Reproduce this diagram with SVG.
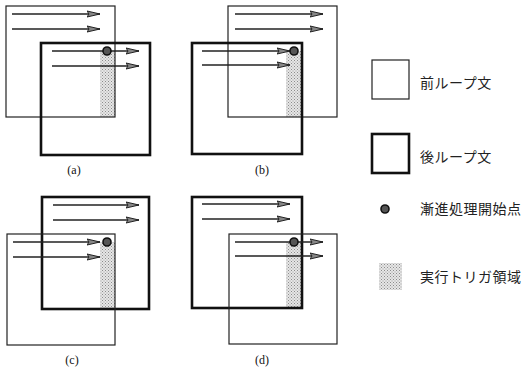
<svg xmlns="http://www.w3.org/2000/svg" width="525" height="368" viewBox="0 0 525 368">
  <style>
    .pre { fill: none; stroke: #222; stroke-width: 1.2; }
    .post { fill: none; stroke: #111; stroke-width: 2.6; }
    .flow { stroke: #222; stroke-width: 1.3; fill: none; marker-end: url(#head); }
    .zone { fill: url(#stipple); stroke: none; }
    .start { fill: #555; stroke: #111; stroke-width: 1.6; }
    .cap { font-family: "Liberation Serif", serif; font-size: 12px; fill: #111; text-anchor: middle; }
    .lbl { font-family: "Noto Sans CJK JP", sans-serif; font-size: 14px; letter-spacing: 0.5px; fill: #222; }
  </style>
  <defs>
    <pattern id="stipple" width="3" height="3" patternUnits="userSpaceOnUse">
      <rect width="3" height="3" fill="#e6e6e6"/>
      <rect x="0" y="0" width="1" height="1" fill="#8c8c8c"/>
      <rect x="1.5" y="1.5" width="1" height="1" fill="#9c9c9c"/>
    </pattern>
    <marker id="head" markerWidth="14" markerHeight="8" refX="13" refY="4" orient="auto" markerUnits="userSpaceOnUse">
      <path d="M0,1 L13,4 L0,7 L2,4 Z" fill="#888" stroke="#222" stroke-width="1"/>
    </marker>
  </defs>

  <!-- (a) -->
  <g id="panel-a">
    <rect class="zone" x="100" y="51" width="15" height="66"/>
    <rect class="pre" x="6" y="6" width="109" height="111"/>
    <rect class="post" x="41" y="43" width="109" height="112"/>
    <text class="cap" x="74" y="174">(a)</text>
  </g>
  <!-- (b) -->
  <g id="panel-b">
    <rect class="zone" x="286" y="51" width="15" height="66"/>
    <rect class="pre" x="228" y="6" width="109" height="111"/>
    <rect class="post" x="192" y="43" width="110" height="111"/>
    <text class="cap" x="262" y="174">(b)</text>
  </g>
  <!-- (c) -->
  <g id="panel-c">
    <rect class="zone" x="100" y="242" width="15" height="67"/>
    <rect class="post" x="42" y="197" width="107" height="112"/>
    <rect class="pre" x="7" y="234" width="108" height="111"/>
    <text class="cap" x="72" y="364">(c)</text>
  </g>
  <!-- (d) -->
  <g id="panel-d">
    <rect class="zone" x="286" y="242" width="15" height="66"/>
    <rect class="post" x="192" y="197" width="110" height="111"/>
    <rect class="pre" x="229" y="234" width="108" height="110"/>
    <text class="cap" x="262" y="364">(d)</text>
  </g>

  <!-- loop iteration arrows -->
  <g id="connectors">
    <line class="flow" x1="12" y1="14" x2="100" y2="14"/>
    <line class="flow" x1="12" y1="29" x2="100" y2="29"/>
    <line class="flow" x1="52" y1="51" x2="139" y2="51"/>
    <line class="flow" x1="52" y1="66" x2="139" y2="66"/>

    <line class="flow" x1="235" y1="14" x2="323" y2="14"/>
    <line class="flow" x1="235" y1="29" x2="323" y2="29"/>
    <line class="flow" x1="202" y1="51" x2="290" y2="51"/>
    <line class="flow" x1="202" y1="65" x2="290" y2="65"/>

    <line class="flow" x1="53" y1="205" x2="139" y2="205"/>
    <line class="flow" x1="53" y1="220" x2="139" y2="220"/>
    <line class="flow" x1="13" y1="242" x2="100" y2="242"/>
    <line class="flow" x1="13" y1="257" x2="100" y2="257"/>

    <line class="flow" x1="202" y1="204" x2="290" y2="204"/>
    <line class="flow" x1="202" y1="219" x2="290" y2="219"/>
    <line class="flow" x1="235" y1="242" x2="323" y2="242"/>
    <line class="flow" x1="235" y1="256" x2="323" y2="256"/>
  </g>

  <!-- start points -->
  <g id="start-points">
    <circle class="start" cx="107" cy="51" r="4"/>
    <circle class="start" cx="294" cy="51" r="4"/>
    <circle class="start" cx="107" cy="242" r="4"/>
    <circle class="start" cx="294" cy="242" r="4"/>
  </g>

  <!-- legend -->
  <g id="legend-pre">
    <rect class="pre" x="372" y="60" width="37" height="39"/>
    <text class="lbl" x="420" y="88">前ループ文</text>
  </g>
  <g id="legend-post">
    <rect class="post" x="372" y="134" width="37" height="39"/>
    <text class="lbl" x="420" y="162">後ループ文</text>
  </g>
  <g id="legend-start">
    <circle class="start" cx="385" cy="209" r="4"/>
    <text class="lbl" x="420" y="214">漸進処理開始点</text>
  </g>
  <g id="legend-zone">
    <rect class="zone" x="379" y="263" width="23" height="27"/>
    <text class="lbl" x="420" y="282">実行トリガ領域</text>
  </g>
</svg>
